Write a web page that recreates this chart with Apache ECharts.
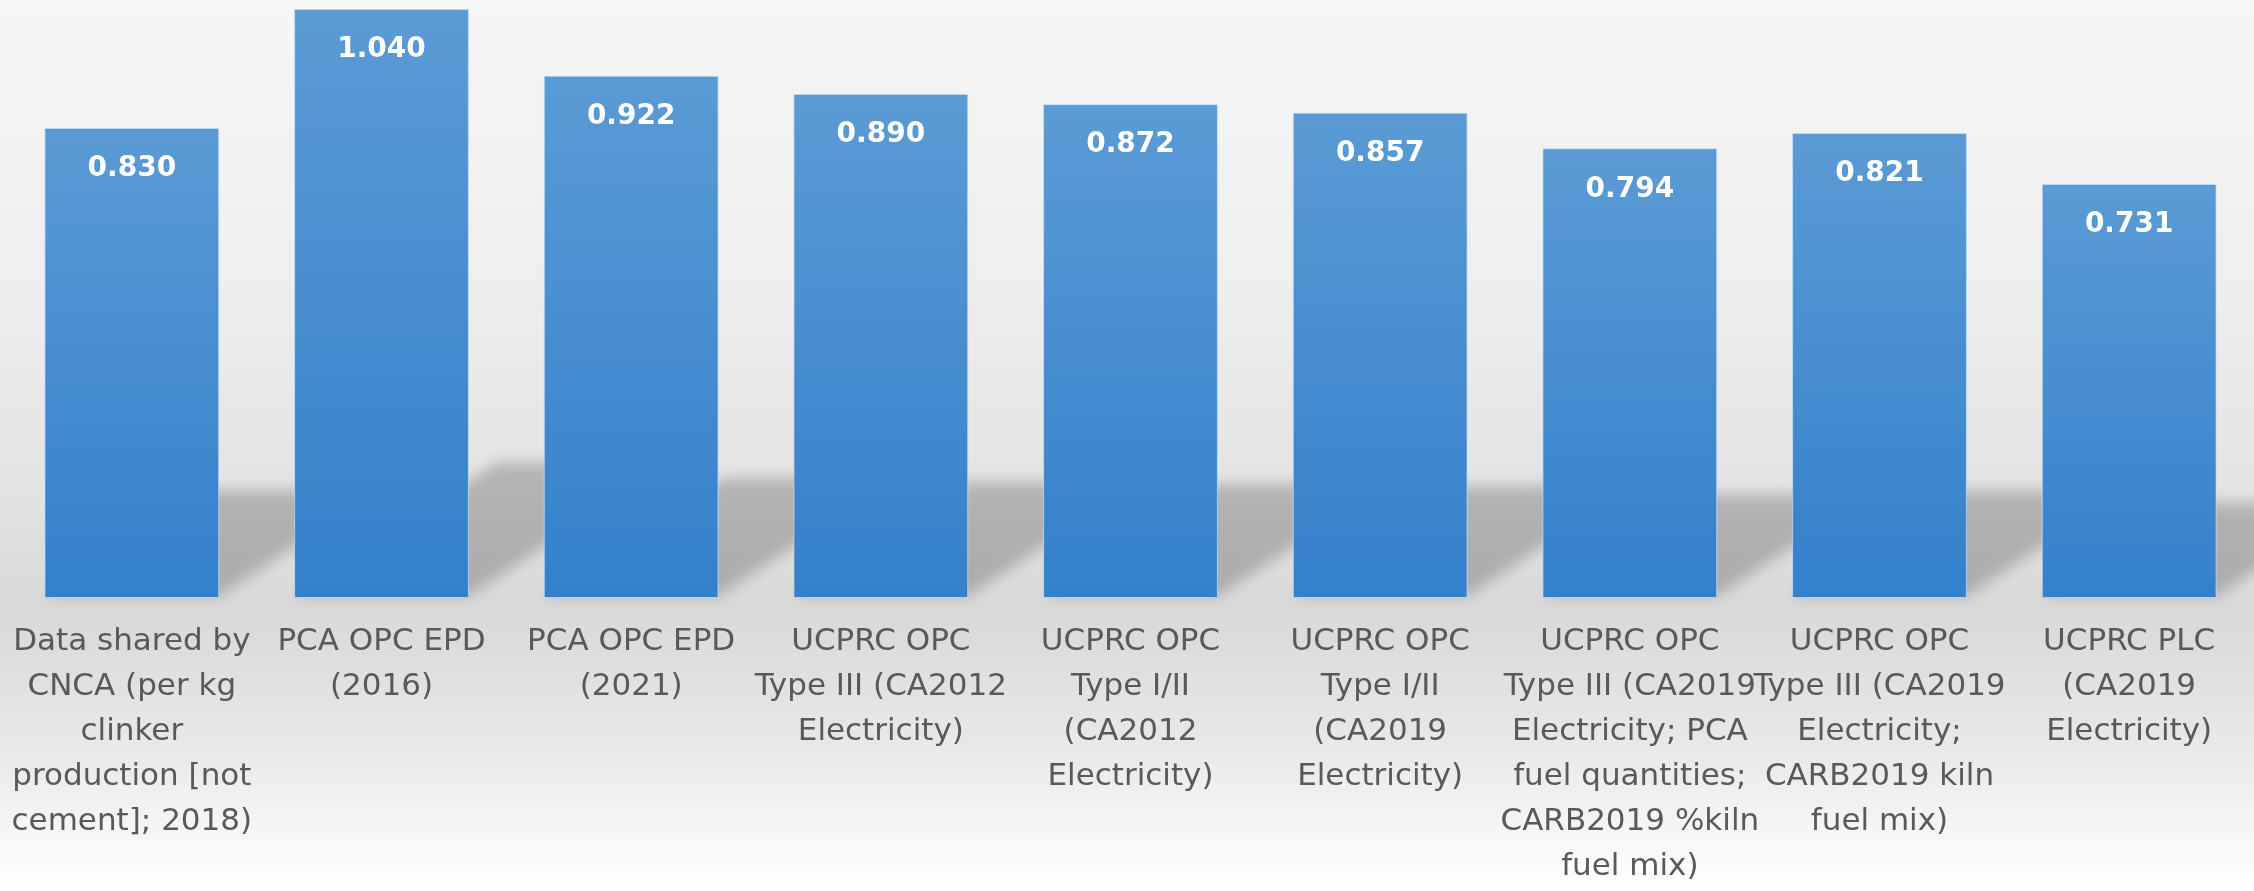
<!DOCTYPE html>
<html>
<head>
<meta charset="utf-8">
<style>
    html, body {
        margin: 0;
        padding: 0;
        width: 2254px;
        height: 891px;
        overflow: hidden;
        background: linear-gradient(to bottom, #f6f6f6 0%, #efefef 30%, #e3e3e3 55%, #d9d9d9 68%, #dcdcdc 72%, #eaeaea 85%, #ffffff 100%);
    }
    #container {
        width: 2254px;
        height: 891px;
    }
</style>
<script src="https://cdn.jsdelivr.net/npm/echarts@6/dist/echarts.min.js"></script>
</head>
<body>
<div id="container"></div>
<script>
    // 类目 / 数值
    var categories = [
        "Data shared by\nCNCA (per kg\nclinker\nproduction [not\ncement]; 2018)",
        "PCA OPC EPD\n(2016)",
        "PCA OPC EPD\n(2021)",
        "UCPRC OPC\nType III (CA2012\nElectricity)",
        "UCPRC OPC\nType I/II\n(CA2012\nElectricity)",
        "UCPRC OPC\nType I/II\n(CA2019\nElectricity)",
        "UCPRC OPC\nType III (CA2019\nElectricity; PCA\nfuel quantities;\nCARB2019 %kiln\nfuel mix)",
        "UCPRC OPC\nType III (CA2019\nElectricity;\nCARB2019 kiln\nfuel mix)",
        "UCPRC PLC\n(CA2019\nElectricity)"
    ];
    var values = [0.830, 1.040, 0.922, 0.890, 0.872, 0.857, 0.794, 0.821, 0.731];

    var shadowData = [];
    for (var i = 0; i < values.length; i++) {
        shadowData.push([i, values[i]]);
    }

    // 柱子后面的透视阴影 (形状画在画布外, 只显示模糊的投影)
    var OFF = 4000;
    function renderShadow(params, api) {
        var idx = api.value(0);
        var v = api.value(1);
        var base = api.coord([idx, 0]);
        var top = api.coord([idx, v]);
        var bw = api.size([1, 0])[0] * 0.7;
        var xL = base[0] - bw / 2 - OFF;
        var xR = base[0] + bw / 2 - OFF;
        var h = (base[1] - top[1]) * 0.23;
        var sx = h * 1.5;
        return {
            type: 'polygon',
            shape: {
                points: [
                    [xL, base[1] - 2],
                    [xR, base[1] - 2],
                    [xR + sx, base[1] - h],
                    [xL + sx, base[1] - h]
                ]
            },
            style: {
                fill: '#000',
                shadowBlur: 14,
                shadowOffsetX: OFF,
                shadowColor: 'rgba(0,0,0,0.21)'
            }
        };
    }

    var myChart = echarts.init(document.getElementById('container'));

    var option = {
        animation: false,
        backgroundColor: 'transparent',
        grid: {
            left: 7,
            top: 9,
            width: 2262,
            bottom: 293,
            containLabel: false
        },
        xAxis: {
            type: 'category',
            data: categories,
            axisLine: { show: false },
            axisTick: { show: false },
            axisLabel: {
                interval: 0,
                margin: 21,
                color: '#595959',
                fontFamily: 'DejaVu Sans',
                fontSize: 31,
                lineHeight: 45,
                align: 'center'
            }
        },
        yAxis: {
            type: 'value',
            min: 0,
            max: 1.04,
            show: false,
            splitLine: { show: false }
        },
        series: [
            {
                type: 'custom',
                renderItem: renderShadow,
                data: shadowData,
                encode: { x: 0, y: 1 },
                clip: false,
                z: 1,
                silent: true
            },
            {
                type: 'bar',
                data: values,
                barWidth: '70%',
                z: 2,
                itemStyle: {
                    color: new echarts.graphic.LinearGradient(0, 0, 0, 1, [
                        { offset: 0, color: '#5b9bd5' },
                        { offset: 1, color: '#3480cb' }
                    ]),
                    borderColor: 'rgba(200,225,245,0.7)',
                    borderWidth: 1
                },
                label: {
                    show: true,
                    position: 'insideTop',
                    distance: 27,
                    color: '#ffffff',
                    fontFamily: 'DejaVu Sans',
                    fontWeight: 'bold',
                    fontSize: 28,
                    formatter: function (p) {
                        return p.value.toFixed(3);
                    }
                }
            }
        ]
    };

    myChart.setOption(option);
</script>
</body>
</html>
